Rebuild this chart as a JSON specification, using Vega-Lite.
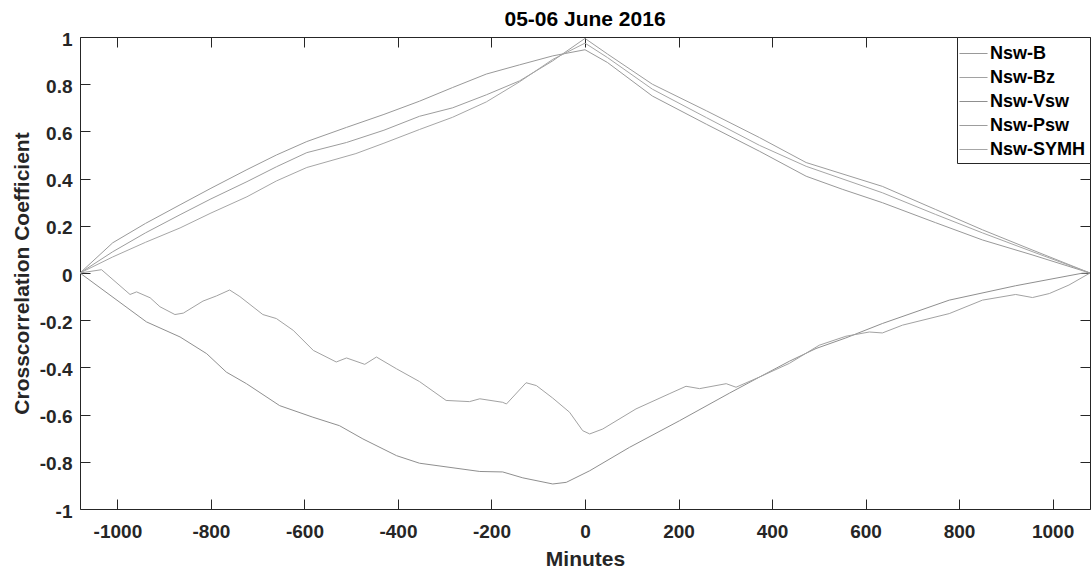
{
  "$schema": "https://vega.github.io/schema/vega-lite/v6.json",
  "autosize": "none",
  "width": 1010,
  "height": 472,
  "padding": {"left": 80, "top": 37, "right": 1, "bottom": 60},
  "background": "white",
  "title": {"text": "05-06 June 2016", "font": "Liberation Sans", "fontSize": 21, "fontWeight": "bold", "color": "#000000", "anchor": "middle", "offset": 0},
  "config": {
    "view": {"stroke": null},
    "font": "Liberation Sans",
    "axis": {"grid": false, "domainColor": "#262626", "tickColor": "#262626", "labelColor": "#262626", "titleColor": "#262626", "labelFont": "Liberation Sans", "labelFontWeight": "bold", "labelFontSize": 19, "titleFont": "Liberation Sans", "titleFontWeight": "bold", "titleFontSize": 21, "tickSize": -10, "labelFlush": false, "labelOverlap": false, "domainWidth": 1, "tickWidth": 1}
  },
  "data": {"values": [
    {"s":"Nsw-B","m":-1080,"r":0},{"s":"Nsw-B","m":-1010,"r":0.128},{"s":"Nsw-B","m":-940,"r":0.21},{"s":"Nsw-B","m":-866,"r":0.289},{"s":"Nsw-B","m":-800,"r":0.359},{"s":"Nsw-B","m":-723,"r":0.438},{"s":"Nsw-B","m":-660,"r":0.5},{"s":"Nsw-B","m":-595,"r":0.557},{"s":"Nsw-B","m":-510,"r":0.617},{"s":"Nsw-B","m":-430,"r":0.672},{"s":"Nsw-B","m":-354,"r":0.728},{"s":"Nsw-B","m":-283,"r":0.786},{"s":"Nsw-B","m":-211,"r":0.843},{"s":"Nsw-B","m":-140,"r":0.882},{"s":"Nsw-B","m":-69,"r":0.92},{"s":"Nsw-B","m":0,"r":0.946},{"s":"Nsw-B","m":48,"r":0.892},{"s":"Nsw-B","m":144,"r":0.75},{"s":"Nsw-B","m":260,"r":0.63},{"s":"Nsw-B","m":373,"r":0.516},{"s":"Nsw-B","m":473,"r":0.41},{"s":"Nsw-B","m":550,"r":0.355},{"s":"Nsw-B","m":636,"r":0.298},{"s":"Nsw-B","m":750,"r":0.213},{"s":"Nsw-B","m":850,"r":0.14},{"s":"Nsw-B","m":956,"r":0.077},{"s":"Nsw-B","m":1080,"r":0},
    {"s":"Nsw-Psw","m":-1080,"r":0},{"s":"Nsw-Psw","m":-1010,"r":0.09},{"s":"Nsw-Psw","m":-940,"r":0.17},{"s":"Nsw-Psw","m":-866,"r":0.247},{"s":"Nsw-Psw","m":-800,"r":0.314},{"s":"Nsw-Psw","m":-723,"r":0.387},{"s":"Nsw-Psw","m":-660,"r":0.45},{"s":"Nsw-Psw","m":-595,"r":0.51},{"s":"Nsw-Psw","m":-510,"r":0.553},{"s":"Nsw-Psw","m":-430,"r":0.605},{"s":"Nsw-Psw","m":-354,"r":0.664},{"s":"Nsw-Psw","m":-283,"r":0.7},{"s":"Nsw-Psw","m":-211,"r":0.755},{"s":"Nsw-Psw","m":-140,"r":0.814},{"s":"Nsw-Psw","m":-69,"r":0.899},{"s":"Nsw-Psw","m":0,"r":0.994},{"s":"Nsw-Psw","m":48,"r":0.928},{"s":"Nsw-Psw","m":144,"r":0.8},{"s":"Nsw-Psw","m":260,"r":0.687},{"s":"Nsw-Psw","m":373,"r":0.574},{"s":"Nsw-Psw","m":473,"r":0.468},{"s":"Nsw-Psw","m":636,"r":0.367},{"s":"Nsw-Psw","m":750,"r":0.269},{"s":"Nsw-Psw","m":850,"r":0.183},{"s":"Nsw-Psw","m":956,"r":0.098},{"s":"Nsw-Psw","m":1080,"r":0},
    {"s":"Nsw-SYMH","m":-1080,"r":0},{"s":"Nsw-SYMH","m":-1010,"r":0.068},{"s":"Nsw-SYMH","m":-940,"r":0.13},{"s":"Nsw-SYMH","m":-866,"r":0.191},{"s":"Nsw-SYMH","m":-800,"r":0.254},{"s":"Nsw-SYMH","m":-723,"r":0.323},{"s":"Nsw-SYMH","m":-660,"r":0.39},{"s":"Nsw-SYMH","m":-595,"r":0.447},{"s":"Nsw-SYMH","m":-490,"r":0.506},{"s":"Nsw-SYMH","m":-430,"r":0.55},{"s":"Nsw-SYMH","m":-354,"r":0.608},{"s":"Nsw-SYMH","m":-283,"r":0.66},{"s":"Nsw-SYMH","m":-211,"r":0.725},{"s":"Nsw-SYMH","m":-140,"r":0.81},{"s":"Nsw-SYMH","m":-69,"r":0.905},{"s":"Nsw-SYMH","m":0,"r":0.974},{"s":"Nsw-SYMH","m":48,"r":0.913},{"s":"Nsw-SYMH","m":144,"r":0.779},{"s":"Nsw-SYMH","m":260,"r":0.658},{"s":"Nsw-SYMH","m":373,"r":0.541},{"s":"Nsw-SYMH","m":473,"r":0.452},{"s":"Nsw-SYMH","m":636,"r":0.34},{"s":"Nsw-SYMH","m":750,"r":0.248},{"s":"Nsw-SYMH","m":850,"r":0.17},{"s":"Nsw-SYMH","m":956,"r":0.091},{"s":"Nsw-SYMH","m":1080,"r":0},
    {"s":"Nsw-Vsw","m":-1080,"r":0},{"s":"Nsw-Vsw","m":-938,"r":-0.207},{"s":"Nsw-Vsw","m":-866,"r":-0.271},{"s":"Nsw-Vsw","m":-809,"r":-0.342},{"s":"Nsw-Vsw","m":-767,"r":-0.42},{"s":"Nsw-Vsw","m":-724,"r":-0.469},{"s":"Nsw-Vsw","m":-653,"r":-0.562},{"s":"Nsw-Vsw","m":-582,"r":-0.611},{"s":"Nsw-Vsw","m":-525,"r":-0.647},{"s":"Nsw-Vsw","m":-475,"r":-0.703},{"s":"Nsw-Vsw","m":-403,"r":-0.774},{"s":"Nsw-Vsw","m":-354,"r":-0.806},{"s":"Nsw-Vsw","m":-225,"r":-0.841},{"s":"Nsw-Vsw","m":-176,"r":-0.843},{"s":"Nsw-Vsw","m":-133,"r":-0.868},{"s":"Nsw-Vsw","m":-69,"r":-0.894},{"s":"Nsw-Vsw","m":-40,"r":-0.887},{"s":"Nsw-Vsw","m":10,"r":-0.838},{"s":"Nsw-Vsw","m":95,"r":-0.739},{"s":"Nsw-Vsw","m":202,"r":-0.626},{"s":"Nsw-Vsw","m":309,"r":-0.509},{"s":"Nsw-Vsw","m":373,"r":-0.441},{"s":"Nsw-Vsw","m":437,"r":-0.374},{"s":"Nsw-Vsw","m":494,"r":-0.32},{"s":"Nsw-Vsw","m":558,"r":-0.275},{"s":"Nsw-Vsw","m":636,"r":-0.214},{"s":"Nsw-Vsw","m":779,"r":-0.115},{"s":"Nsw-Vsw","m":921,"r":-0.054},{"s":"Nsw-Vsw","m":1063,"r":-0.001},{"s":"Nsw-Vsw","m":1080,"r":0},
    {"s":"Nsw-Bz","m":-1080,"r":0},{"s":"Nsw-Bz","m":-1034,"r":0.014},{"s":"Nsw-Bz","m":-973,"r":-0.091},{"s":"Nsw-Bz","m":-959,"r":-0.08},{"s":"Nsw-Bz","m":-930,"r":-0.105},{"s":"Nsw-Bz","m":-909,"r":-0.143},{"s":"Nsw-Bz","m":-877,"r":-0.176},{"s":"Nsw-Bz","m":-859,"r":-0.17},{"s":"Nsw-Bz","m":-817,"r":-0.119},{"s":"Nsw-Bz","m":-788,"r":-0.097},{"s":"Nsw-Bz","m":-760,"r":-0.072},{"s":"Nsw-Bz","m":-738,"r":-0.1},{"s":"Nsw-Bz","m":-689,"r":-0.176},{"s":"Nsw-Bz","m":-660,"r":-0.193},{"s":"Nsw-Bz","m":-624,"r":-0.243},{"s":"Nsw-Bz","m":-581,"r":-0.328},{"s":"Nsw-Bz","m":-532,"r":-0.377},{"s":"Nsw-Bz","m":-510,"r":-0.36},{"s":"Nsw-Bz","m":-471,"r":-0.387},{"s":"Nsw-Bz","m":-446,"r":-0.356},{"s":"Nsw-Bz","m":-403,"r":-0.406},{"s":"Nsw-Bz","m":-354,"r":-0.46},{"s":"Nsw-Bz","m":-297,"r":-0.54},{"s":"Nsw-Bz","m":-247,"r":-0.545},{"s":"Nsw-Bz","m":-225,"r":-0.533},{"s":"Nsw-Bz","m":-176,"r":-0.548},{"s":"Nsw-Bz","m":-168,"r":-0.555},{"s":"Nsw-Bz","m":-126,"r":-0.465},{"s":"Nsw-Bz","m":-104,"r":-0.477},{"s":"Nsw-Bz","m":-69,"r":-0.53},{"s":"Nsw-Bz","m":-33,"r":-0.59},{"s":"Nsw-Bz","m":-5,"r":-0.668},{"s":"Nsw-Bz","m":10,"r":-0.682},{"s":"Nsw-Bz","m":38,"r":-0.661},{"s":"Nsw-Bz","m":109,"r":-0.576},{"s":"Nsw-Bz","m":180,"r":-0.512},{"s":"Nsw-Bz","m":216,"r":-0.48},{"s":"Nsw-Bz","m":245,"r":-0.49},{"s":"Nsw-Bz","m":302,"r":-0.469},{"s":"Nsw-Bz","m":323,"r":-0.484},{"s":"Nsw-Bz","m":373,"r":-0.441},{"s":"Nsw-Bz","m":437,"r":-0.383},{"s":"Nsw-Bz","m":501,"r":-0.306},{"s":"Nsw-Bz","m":558,"r":-0.268},{"s":"Nsw-Bz","m":608,"r":-0.25},{"s":"Nsw-Bz","m":636,"r":-0.254},{"s":"Nsw-Bz","m":679,"r":-0.221},{"s":"Nsw-Bz","m":779,"r":-0.172},{"s":"Nsw-Bz","m":850,"r":-0.115},{"s":"Nsw-Bz","m":921,"r":-0.091},{"s":"Nsw-Bz","m":957,"r":-0.104},{"s":"Nsw-Bz","m":993,"r":-0.087},{"s":"Nsw-Bz","m":1035,"r":-0.051},{"s":"Nsw-Bz","m":1080,"r":0}
  ]},
  "layer": [
    {
      "mark": {"type": "line", "strokeWidth": 1},
      "encoding": {
        "x": {"field": "m", "type": "quantitative", "scale": {"domain": [-1080, 1080], "nice": false, "zero": false},
              "axis": {"orient": "bottom", "values": [-1000,-800,-600,-400,-200,0,200,400,600,800,1000], "labelExpr": "'' + datum.value", "labelPadding": 23, "labelBaseline": "top", "title": "Minutes", "titleBaseline": "alphabetic", "titleY": 56}},
        "y": {"field": "r", "type": "quantitative", "scale": {"domain": [-1, 1], "nice": false},
              "axis": {"orient": "left", "values": [-1,-0.8,-0.6,-0.4,-0.2,0,0.2,0.4,0.6,0.8,1], "labelExpr": "'' + datum.value", "labelPadding": 18, "labelOffset": 2, "title": "Crosscorrelation Coefficient", "titleBaseline": "alphabetic", "titleX": -52}},
        "color": {"field": "s", "type": "nominal",
                  "scale": {"domain": ["Nsw-B", "Nsw-Bz", "Nsw-Vsw", "Nsw-Psw", "Nsw-SYMH"], "range": ["#999999", "#a2a2a2", "#8f8f8f", "#9d9d9d", "#a6a6a6"]},
                  "legend": {"orient": "top-right", "offset": 0, "title": null, "symbolType": "M-1.17,0H1.17", "symbolSize": 576, "symbolStrokeWidth": 1, "labelFont": "Liberation Sans", "labelFontWeight": "bold", "labelFontSize": 18, "labelColor": "#000000", "labelOffset": 4, "padding": 4, "rowPadding": 2, "strokeColor": "#262626", "fillColor": "white"}}
      }
    },
    {
      "mark": {"type": "line", "opacity": 0},
      "encoding": {
        "x": {"field": "m", "type": "quantitative", "axis": {"orient": "top", "values": [-1000,-800,-600,-400,-200,0,200,400,600,800,1000], "labels": false, "title": null}},
        "y": {"field": "r", "type": "quantitative", "axis": {"orient": "right", "values": [-1,-0.8,-0.6,-0.4,-0.2,0,0.2,0.4,0.6,0.8,1], "labels": false, "title": null}},
        "detail": {"field": "s", "type": "nominal"}
      }
    }
  ],
  "resolve": {"axis": {"x": "independent", "y": "independent"}}
}
